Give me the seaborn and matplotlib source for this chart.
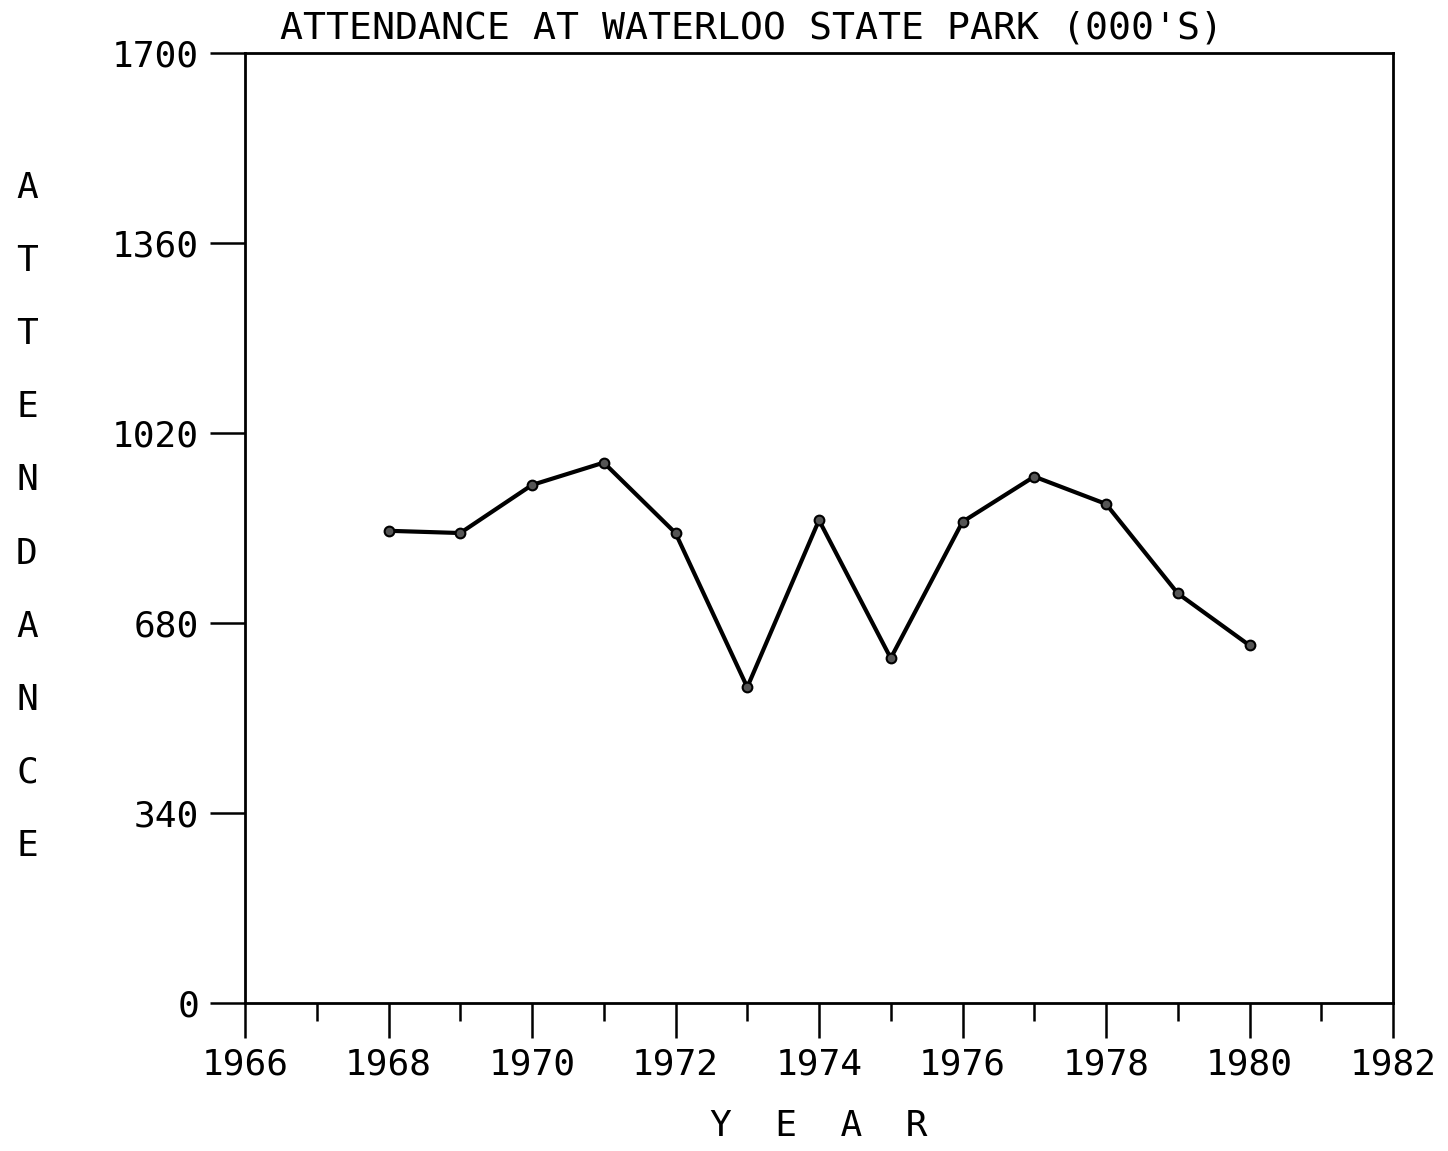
import matplotlib
matplotlib.use("Agg")
import matplotlib.pyplot as plt
from matplotlib.ticker import MultipleLocator
import seaborn as sns
import pandas as pd

# Data
years = [1968, 1969, 1970, 1971, 1972, 1973, 1974, 1975, 1976, 1977, 1978, 1979, 1980]
attendance = [845, 841, 927, 967, 841, 565, 864, 617, 861, 942, 893, 733, 640]

title = "ATTENDANCE AT WATERLOO STATE PARK (000'S)"
y_label = "ATTENDANCE"
x_label = "Y  E  A  R"
y_ticks = [0, 340, 680, 1020, 1360, 1700]
x_ticks = [1966, 1968, 1970, 1972, 1974, 1976, 1978, 1980, 1982]

df = pd.DataFrame({"year": years, "attendance": attendance})

sns.set_style("white")
plt.rcParams["font.family"] = ["DejaVu Sans Mono", "DejaVu Sans"]
plt.rcParams["text.color"] = "black"
plt.rcParams["xtick.color"] = "black"
plt.rcParams["ytick.color"] = "black"
plt.rcParams["axes.labelcolor"] = "black"
FS = 26

fig = plt.figure(figsize=(14.48, 11.51), dpi=100)
ax = fig.add_axes([245 / 1448, 1 - 1003 / 1151, 1148 / 1448, 950 / 1151])

sns.lineplot(data=df, x="year", y="attendance", ax=ax, color="black",
             linewidth=3, marker="o", markersize=7,
             markerfacecolor="#555555", markeredgecolor="black", markeredgewidth=1.5)

ax.set_xlim(1966, 1982)
ax.set_ylim(0, 1700)
ax.set_xticks(x_ticks)
ax.set_yticks(y_ticks)
ax.xaxis.set_minor_locator(MultipleLocator(1))
ax.tick_params(axis="x", which="major", direction="out", length=25, width=1.8,
               pad=7, labelsize=FS, bottom=True)
ax.tick_params(axis="x", which="minor", direction="out", length=13, width=1.8,
               bottom=True)
ax.tick_params(axis="y", which="major", direction="out", length=25, width=1.8,
               pad=8, labelsize=FS, left=True)
for s in ax.spines.values():
    s.set_visible(True)
    s.set_color("black")
    s.set_linewidth(2)

ax.set_xlabel(x_label, fontsize=FS, labelpad=20)
ax.set_ylabel("")

fig.text(752 / 1448, 1 - 28 / 1151, title, ha="center", va="center", fontsize=27.5)

# vertical stacked y label
for i, ch in enumerate(y_label):
    fig.text(27 / 1448, 1 - (188 + i * 73.1) / 1151, ch, ha="center", va="center", fontsize=FS)

fig.savefig("out.png", dpi=100)
